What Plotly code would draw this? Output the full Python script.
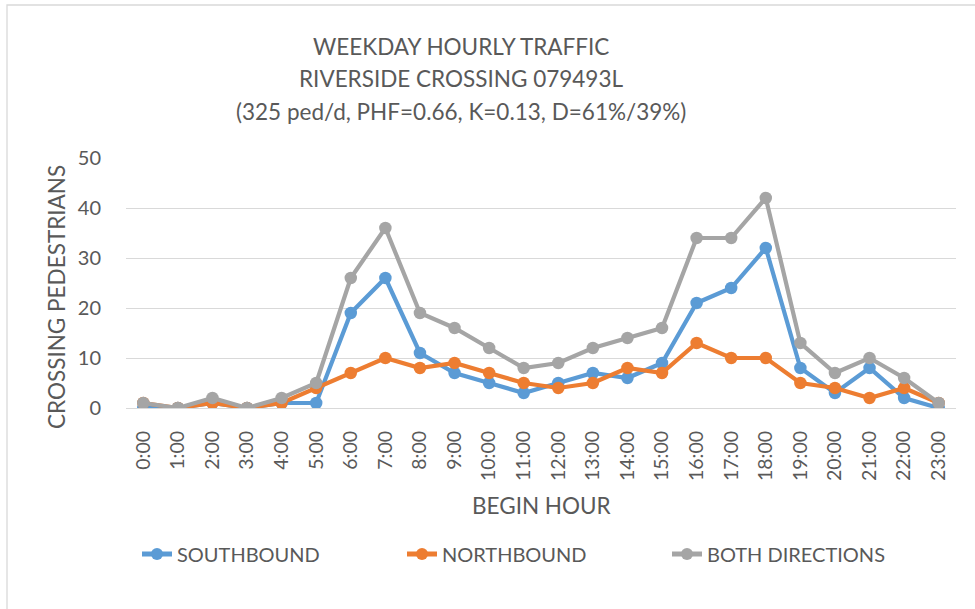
import plotly.graph_objects as go

hours = [f"{h}:00" for h in range(24)]
southbound = [0, 0, 1, 0, 1, 1, 19, 26, 11, 7, 5, 3, 5, 7, 6, 9, 21, 24, 32, 8, 3, 8, 2, 0]
northbound = [1, 0, 1, 0, 1, 4, 7, 10, 8, 9, 7, 5, 4, 5, 8, 7, 13, 10, 10, 5, 4, 2, 4, 1]
both_directions = [1, 0, 2, 0, 2, 5, 26, 36, 19, 16, 12, 8, 9, 12, 14, 16, 34, 34, 42, 13, 7, 10, 6, 1]

series_names = ["SOUTHBOUND", "NORTHBOUND", "BOTH DIRECTIONS"]
series_colors = ["#5B9BD5", "#ED7D31", "#A5A5A5"]

title_lines = ["WEEKDAY HOURLY TRAFFIC", "RIVERSIDE CROSSING 079493L",
               "(325 ped/d, PHF=0.66, K=0.13, D=61%/39%)"]

W, H = 975, 609
L, R, T, B = 126, 19, 158, 201
PW, PH = W - L - R, H - T - B
FONT = "Lato, Carlito, sans-serif"
TXT = "#595959"


def px(x):
    return (x - L) / PW


def py(y):
    return (H - B - y) / PH


fig = go.Figure()
for name, vals, col in zip(series_names, [southbound, northbound, both_directions], series_colors):
    fig.add_trace(go.Scatter(
        x=hours, y=vals, name=name, mode="lines+markers",
        line=dict(color=col, width=4.2),
        marker=dict(color=col, size=12.5, symbol="circle"),
    ))

annotations = []
for i, line in enumerate(title_lines):
    annotations.append(dict(text=line, x=px(461), y=py(46 + 32.5 * i), xref="paper", yref="paper",
                            showarrow=False, xanchor="center", yanchor="middle",
                            font=dict(family=FONT, size=22.5, color=TXT)))
annotations.append(dict(text="CROSSING PEDESTRIANS", x=px(56), y=py(297), xref="paper", yref="paper",
                        showarrow=False, textangle=-90, xanchor="center", yanchor="middle",
                        font=dict(family=FONT, size=22.5, color=TXT)))
annotations.append(dict(text="BEGIN HOUR", x=px(541), y=py(505), xref="paper", yref="paper",
                        showarrow=False, xanchor="center", yanchor="middle",
                        font=dict(family=FONT, size=22.5, color=TXT)))

fig.update_layout(
    width=W, height=H,
    margin=dict(l=L, r=R, t=T, b=B),
    paper_bgcolor="white", plot_bgcolor="white",
    font=dict(family=FONT, color=TXT, size=16),
    annotations=annotations,
    showlegend=True,
    legend=dict(orientation="h", x=px(137), y=py(554), xanchor="left", yanchor="middle",
                xref="paper", yref="paper",
                entrywidth=220, entrywidthmode="pixels",
                font=dict(family=FONT, size=20, color=TXT), itemsizing="constant"),
    shapes=[dict(type="rect", xref="paper", yref="paper", x0=px(7), x1=px(1000), y0=py(640), y1=py(5),
                 line=dict(color="#D9D9D9", width=1.3), fillcolor="rgba(0,0,0,0)", layer="below")],
)
fig.update_xaxes(
    type="category", tickangle=-90, showgrid=False, showline=True, linecolor="#D9D9D9", linewidth=1.3,
    ticks="outside", ticklen=14, tickcolor="rgba(0,0,0,0)",
    tickfont=dict(family=FONT, size=19.5, color=TXT), range=[-0.5, 23.5],
)
fig.update_yaxes(
    range=[0, 50], dtick=10, showgrid=True, gridcolor="#D9D9D9", gridwidth=1.3,
    zeroline=True, zerolinecolor="#D9D9D9", zerolinewidth=1.3, showline=False,
    ticks="outside", ticklen=20, tickcolor="rgba(0,0,0,0)",
    tickfont=dict(family=FONT, size=20, color=TXT),
)

fig.write_html("out.html", config={"displayModeBar": False},
               post_script="document.body.style.margin='0';")
